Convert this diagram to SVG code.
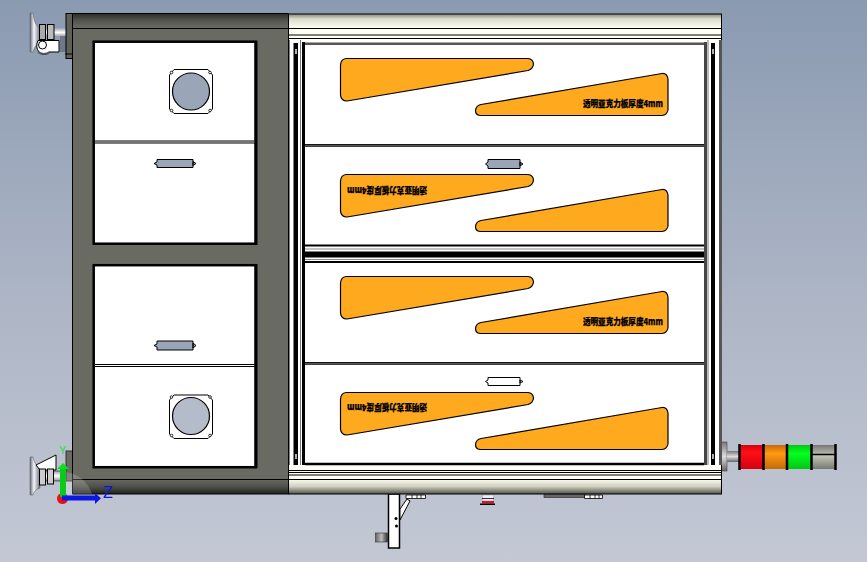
<svg xmlns="http://www.w3.org/2000/svg" width="867" height="562" viewBox="0 0 867 562">
<style>
.k{stroke:#000;stroke-width:1;fill:none}
.ko{stroke:#000;stroke-width:1.2;fill:#ffa91f;stroke-linejoin:round}
.w{fill:#fff;stroke:#000;stroke-width:2.500}
.port{fill:#9aa5b8;stroke:#000;stroke-width:1}
.t{font-family:"Noto Sans CJK SC","Liberation Sans",sans-serif;font-size:9.2px;font-weight:900;fill:#000;stroke:#000;stroke-width:.25}
.sc{fill:#fff;stroke:#000;stroke-width:.8}
</style>
<defs>
<linearGradient id="bg" x1="0" y1="0" x2="0" y2="1"><stop offset="0" stop-color="#8a9ab1"/><stop offset=".55" stop-color="#aeb6c6"/><stop offset="1" stop-color="#c3c8d4"/></linearGradient>
<linearGradient id="dt" x1="0" y1="0" x2="0" y2="1"><stop offset="0" stop-color="#2e2f2a"/><stop offset=".5" stop-color="#55564f"/><stop offset="1" stop-color="#696a62"/></linearGradient>
<linearGradient id="db" x1="0" y1="0" x2="0" y2="1"><stop offset="0" stop-color="#696a62"/><stop offset=".5" stop-color="#50514b"/><stop offset="1" stop-color="#222320"/></linearGradient>
<linearGradient id="rt" x1="0" y1="0" x2="0" y2="1"><stop offset="0" stop-color="#85867c"/><stop offset=".35" stop-color="#dcdccb"/><stop offset="1" stop-color="#fffff2"/></linearGradient>
<linearGradient id="rb" x1="0" y1="0" x2="0" y2="1"><stop offset="0" stop-color="#fffff2"/><stop offset=".5" stop-color="#cfcfbe"/><stop offset="1" stop-color="#50514a"/></linearGradient>
<linearGradient id="cyl" x1="0" y1="0" x2="0" y2="1"><stop offset="0" stop-color="#777"/><stop offset=".5" stop-color="#ddd"/><stop offset="1" stop-color="#666"/></linearGradient>
<linearGradient id="shaft" x1="0" y1="0" x2="0" y2="1"><stop offset="0" stop-color="#9aa0b0"/><stop offset=".5" stop-color="#fff"/><stop offset="1" stop-color="#8a8f9c"/></linearGradient>
<linearGradient id="foot" x1="0" y1="0" x2="1" y2="0"><stop offset="0" stop-color="#666a78"/><stop offset=".4" stop-color="#f4f6fb"/><stop offset="1" stop-color="#6d7180"/></linearGradient>
<linearGradient id="stub" x1="0" y1="0" x2="1" y2="0"><stop offset="0" stop-color="#666"/><stop offset=".5" stop-color="#bbb"/><stop offset="1" stop-color="#333"/></linearGradient>
<linearGradient id="tr" x1="0" y1="0" x2="0" y2="1"><stop offset="0" stop-color="#d4000e"/><stop offset=".3" stop-color="#ff0f17"/><stop offset="1" stop-color="#d4000e"/></linearGradient>
<linearGradient id="to" x1="0" y1="0" x2="0" y2="1"><stop offset="0" stop-color="#c86a08"/><stop offset=".35" stop-color="#ff9a12"/><stop offset="1" stop-color="#c46a08"/></linearGradient>
<linearGradient id="tg" x1="0" y1="0" x2="0" y2="1"><stop offset="0" stop-color="#00c814"/><stop offset=".35" stop-color="#05ff1e"/><stop offset="1" stop-color="#00c814"/></linearGradient>
<linearGradient id="tk" x1="0" y1="0" x2="0" y2="1"><stop offset="0" stop-color="#777"/><stop offset=".45" stop-color="#c4c5b8"/><stop offset="1" stop-color="#77786f"/></linearGradient>
<g id="shapes">
<path class="ko" d="M346 58.500H528Q533 59 533.500 64Q533 69 528 70.500L347 101Q341 101 340.500 95V65Q341 59 346 58.500Z"/>
<path class="ko" d="M481 104.500L662 73.500Q667 73 668 79V110Q667 115 662 115.500H480Q475.500 115 475.500 110.500Q476 105.500 481 104.500Z"/>
</g>
</defs>
<rect width="867" height="562" fill="url(#bg)"/>

<g id="bracket">
<rect x="388.500" y="494" width="11" height="54" fill="#fff" stroke="#000" stroke-width="1.500"/>
<rect x="375.500" y="533" width="12" height="9" fill="url(#stub)" stroke="#333" stroke-width=".6"/>
<path d="M407 499L400 509V520L410 501Z" fill="#fff" stroke="#000"/>
<path d="M406 495H425.500V498.500H406Z M412 495V498.500M417 495V498.500M421 495V498.500" fill="#fff" stroke="#000" stroke-width=".8"/>
<circle cx="396" cy="518.500" r="1.500" fill="#000"/><circle cx="396.500" cy="526" r="1.500" fill="#000"/>
</g>
<g id="button">
<rect x="482.500" y="495" width="11" height="6" fill="#eef" stroke="#999" stroke-width=".5"/>
<path d="M482 498.500H494" stroke="#000" stroke-width=".8"/>
<rect x="482" y="501" width="12" height="2.500" fill="#e21020"/>
<rect x="480" y="503.500" width="15" height="1.500" fill="#000"/>
</g>
<g id="rail-part">
<rect x="544" y="494" width="41" height="3.500" fill="#666" stroke="#333" stroke-width=".7"/>
<path d="M584.500 495H602.500V498.500H584.500Z M590 495V498.500M595 495V498.500M599 495V498.500" fill="#fff" stroke="#000" stroke-width=".8"/>
</g>

<g id="tower">
<rect x="721" y="442" width="6" height="29" fill="url(#cyl)" stroke="#444" stroke-width=".6"/>
<rect x="727" y="451" width="12" height="11" fill="url(#cyl)"/>
<rect x="740" y="445" width="23" height="24" fill="url(#tr)"/>
<rect x="764" y="445" width="23" height="24" fill="url(#to)"/>
<rect x="788" y="445" width="23" height="24" fill="url(#tg)"/>
<rect x="812" y="445" width="23" height="24" fill="url(#tk)"/>
<path d="M739.500 444V470M763.500 444V470M787 444V470M811.500 444V470M835.500 444V470" stroke="#000" stroke-width="2.500"/>
<path d="M812 454.500H835" stroke="#000" stroke-width="1.500"/>
</g>

<g id="caster-top">
<path d="M30 13H33Q34 25 40 28V42Q34 46 33 52H30Z" fill="url(#foot)" stroke="#555" stroke-width=".5"/>
<rect x="40" y="28" width="26" height="9" fill="url(#shaft)"/>
<rect x="39.500" y="24.500" width="6" height="15" fill="#aaa" stroke="#000"/>
<rect x="47.500" y="24.500" width="6.500" height="15" fill="#bbb" stroke="#000"/>
<path d="M60 37H66M60 39H66M60 41H66M60 43H66M60 45H66M60 47H66M60 49H66M60 51H66" stroke="#333" stroke-width=".7"/>
<path d="M38 40.500H59V52L49 52Q44 57 39 52Q35 47 38 40.500Z" fill="#fff" stroke="#000"/>
<circle cx="42.500" cy="45" r="4" fill="#fff" stroke="#000"/>
<path d="M38 52Q44 56 50 52" stroke="#555" stroke-width="2" fill="none"/>
<rect x="66" y="13.500" width="7" height="45" fill="#5f605a" stroke="#000"/>
<path d="M65 54H73" stroke="#000"/>
</g>
<g id="caster-bottom">
<path d="M30 457H33Q34 464 40 468V488Q34 490 33 495H30Z" fill="url(#foot)" stroke="#555" stroke-width=".5"/>
<path d="M36 465L56 455V470H40Z" fill="#fff" stroke="#000"/>
<rect x="40" y="471" width="24" height="10" fill="url(#shaft)" stroke="#000" stroke-width=".5"/>
<rect x="39.500" y="469" width="6" height="16" fill="#ccc" stroke="#000"/>
<rect x="47.500" y="469" width="6" height="15" fill="#ccc" stroke="#000"/>
<rect x="66" y="451" width="7" height="30" fill="#6a6b63" stroke="#333"/>
</g>

<g id="right-frame">
<rect x="288" y="39" width="434" height="432" fill="#fff"/>
<rect x="293.500" y="43" width="4.500" height="422" fill="#000"/>
<rect x="711" y="43" width="4" height="422" fill="#000"/>
<rect x="288" y="39" width="1.500" height="426" fill="#000"/>
<path d="M300.500 40V465M708 40V465" stroke="#777" stroke-width="1"/>
<rect x="302" y="42" width="3" height="423" fill="#000"/>
<rect x="704" y="42" width="3" height="423" fill="#444"/>
<rect x="719" y="40" width="3" height="425" fill="#555"/>
<rect x="295" y="49" width="2" height="5" fill="#a8b0bf"/><rect x="295" y="454" width="2" height="5" fill="#a8b0bf"/>
<rect x="712" y="49" width="2" height="5" fill="#a8b0bf"/><rect x="712" y="454" width="2" height="5" fill="#a8b0bf"/>
<rect x="288" y="14" width="434" height="14" fill="url(#rt)"/>
<rect x="288" y="28" width="434" height="12" fill="#fffff2"/>
<path d="M288 14H722M288 28.500H722M288 35H722M288 38.500H722M721.500 14V40" class="k"/>
<rect x="288" y="479" width="434" height="15" fill="url(#rb)"/>
<rect x="288" y="465" width="434" height="14" fill="#fffff2"/>
<path d="M288 470.500H722M288 472.500H722M288 475H722M288 479.500H722M288 494H722M721.500 465V494" class="k"/>
<path d="M305 43.800H704" stroke="#555" stroke-width="2.500"/>
<path d="M305 464H704" stroke="#000" stroke-width="2.500"/>
</g>

<g id="panel-1">
<use href="#shapes"/>
<text class="t" x="583" y="107" textLength="80" lengthAdjust="spacingAndGlyphs">透明亚克力板厚度4mm</text>
</g>
<g id="panel-2">
<use href="#shapes" y="116"/>
<path class="port" d="M488 159.500H520V168.500H488V166L485.500 164L488 162Z M520 162L523 164L520 166Z"/>
<text class="t" transform="rotate(180 387 187)" x="347" y="187" textLength="80" lengthAdjust="spacingAndGlyphs">透明亚克力板厚度4mm</text>
</g>
<g id="panel-3">
<use href="#shapes" y="218"/>
<text class="t" x="583" y="325" textLength="80" lengthAdjust="spacingAndGlyphs">透明亚克力板厚度4mm</text>
</g>
<g id="panel-4">
<use href="#shapes" y="334"/>
<path d="M488 377.500H520V385.500H488V383L485.500 381.500L488 380Z M520 380L523 381.500L520 383Z" fill="#fff" stroke="#000"/>
<text class="t" transform="rotate(180 387 404)" x="347" y="404" textLength="80" lengthAdjust="spacingAndGlyphs">透明亚克力板厚度4mm</text>
</g>
<g id="panel-lines">
<path d="M305 145.300H704" stroke="#000" stroke-width="2.800"/><path d="M305 145.300H704" stroke="#888" stroke-width=".8"/>
<path d="M305 363.300H704" stroke="#000" stroke-width="2.800"/><path d="M305 363.300H704" stroke="#888" stroke-width=".8"/>
<path d="M305 245.500H704" stroke="#000" stroke-width="2"/>
<path d="M305 249H704" stroke="#888" stroke-width="1"/>
<path d="M305 254.500H704" stroke="#000" stroke-width="6"/>
<path d="M305 259.500H704" stroke="#888" stroke-width="1"/>
<path d="M305 262H704" stroke="#000" stroke-width="2"/>
</g>

<g id="left-frame">
<rect x="72.500" y="13.500" width="216" height="480.500" fill="#696a62"/>
<rect x="73" y="14" width="215" height="14" fill="url(#dt)"/>
<rect x="73" y="479" width="215" height="15" fill="url(#db)"/>
<path d="M73 28.500H288M73 479.500H288" class="k"/>
<path d="M72.500 13.500H288.500V494H72.500Z" class="k"/>
</g>
<g id="window-top">
<rect class="w" x="93.700" y="41.700" width="162" height="202"/>
<rect x="254.500" y="41" width="3" height="204" fill="#000"/>
<path d="M95 141H255M95 143H255" stroke="#000" stroke-width="1.200"/><path d="M95 142H255" stroke="#666" stroke-width=".8"/>
</g>
<g id="window-bottom">
<rect class="w" x="93.700" y="265.200" width="162" height="202"/>
<rect x="254.500" y="264" width="3" height="204" fill="#000"/>
<path d="M95 364.500H255M95 366.500H255" stroke="#000" stroke-width="1.200"/>
</g>
<g id="port-top">
<path d="M174 69.500H208L212.500 75V109L208 113.500H174L169.500 109V75Z" fill="#fff" stroke="#000"/>
<circle cx="191" cy="91.500" r="18.500" fill="#9aa5b8" stroke="#000" stroke-width="1.200"/>
<circle class="sc" cx="171.500" cy="72.500" r="1.300"/><circle class="sc" cx="210" cy="72.500" r="1.300"/>
<circle class="sc" cx="171.500" cy="110.500" r="1.300"/><circle class="sc" cx="210" cy="110.500" r="1.300"/>
</g>
<g id="port-bottom">
<path d="M174 395H208L212.500 400V434L208 438.500H174L169.500 434V400Z" fill="#fff" stroke="#000"/>
<circle cx="191" cy="416" r="18.500" fill="#b4bbc9" stroke="#000" stroke-width="1.200"/>
<circle class="sc" cx="171.500" cy="435.500" r="1.300"/><circle class="sc" cx="210" cy="435.500" r="1.300"/>
<circle class="sc" cx="171.500" cy="397" r="1.300"/><circle class="sc" cx="210" cy="397" r="1.300"/>
</g>
<g id="slot-1"><path class="port" d="M157 159.500H193V167.500H157V165L154 163.500L157 162Z M193 161.500L196 163.500L193 165.500Z"/></g>
<g id="slot-2"><path class="port" d="M157 341H193V350H157V347L154 345.500L157 344Z M193 343L196 345.500L193 348Z"/></g>

<g id="triad">
<path d="M62 472A31 31 0 0 1 92 494H62Z" fill="#fff" fill-opacity=".18"/>
<circle cx="62.500" cy="498.500" r="5.500" fill="#e8101c"/>
<path d="M63 497V468" stroke="#09cc18" stroke-width="6"/>
<path d="M63 463L69 469H57Z" fill="#0ce01e"/>
<path d="M62 498H95" stroke="#0a18e0" stroke-width="5"/>
<path d="M101 498.300L95 493V504Z" fill="#0a18e0"/>
<text x="59" y="454" font-family="Liberation Sans,sans-serif" font-size="11" fill="#20e030">Y</text>
<text x="103" y="498" font-family="Liberation Sans,sans-serif" font-size="16" fill="#0a18e0">Z</text>
</g>
</svg>
